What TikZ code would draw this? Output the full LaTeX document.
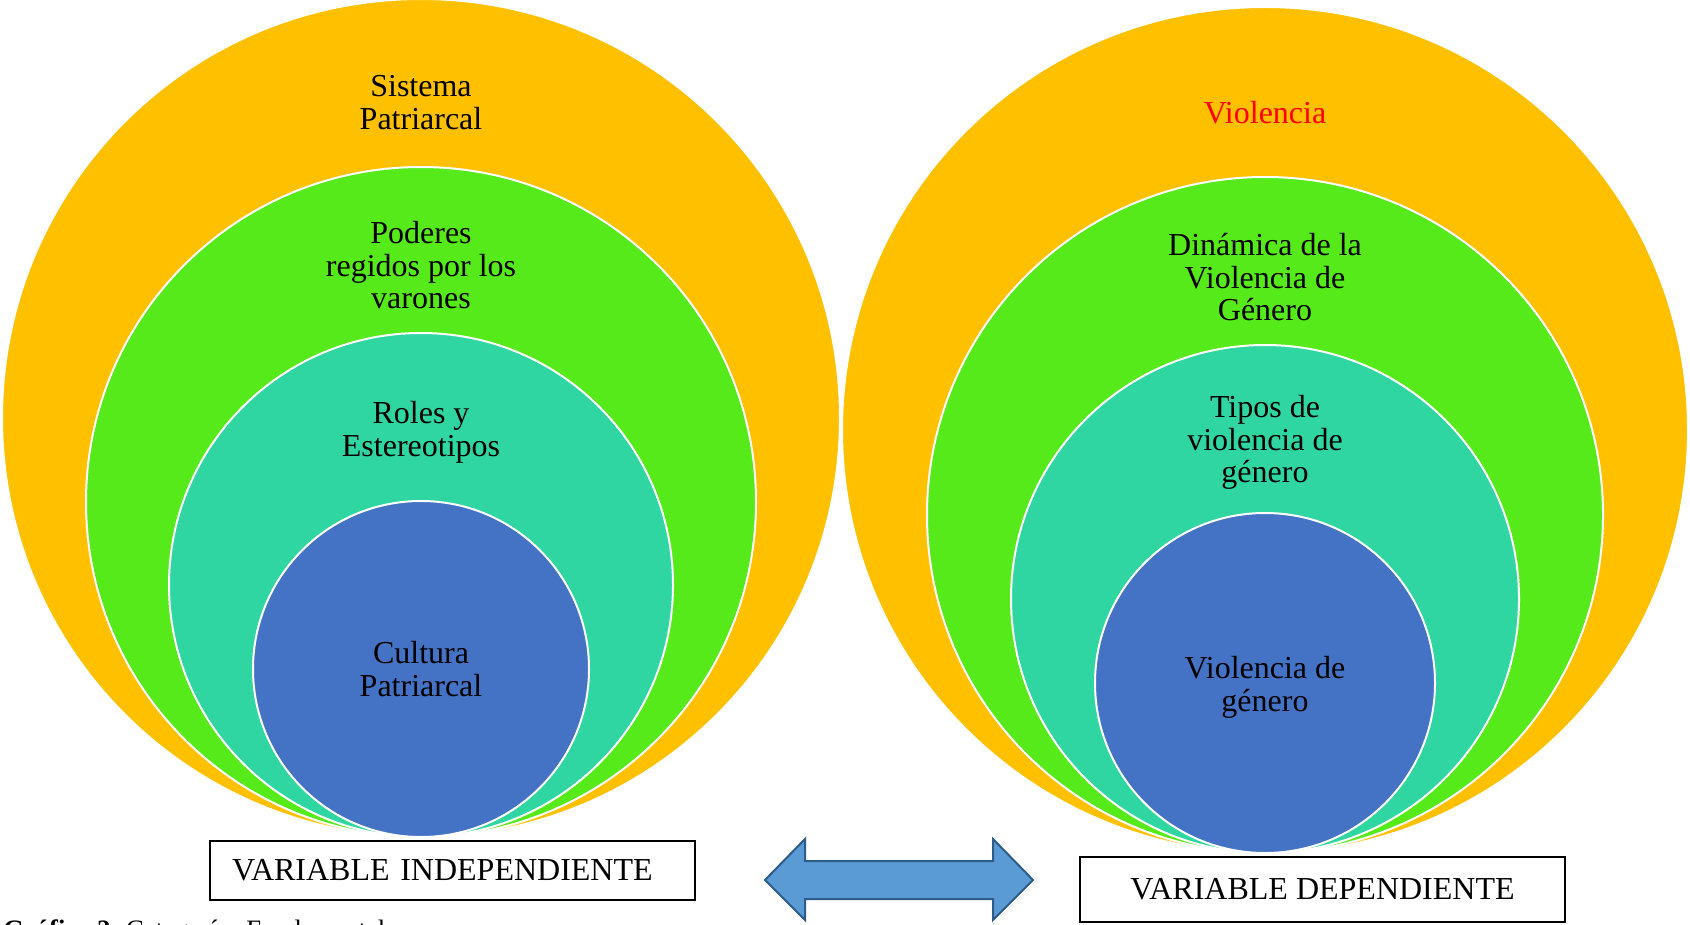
\documentclass[tikz,border=0pt]{standalone}
\usepackage{fontspec}
\setmainfont{Liberation Serif}
\usepackage{tikz}
\usepackage{xcolor}
\usetikzlibrary{positioning}
\definecolor{capaA}{RGB}{255,192,0}
\definecolor{capaB}{RGB}{86,234,26}
\definecolor{capaC}{RGB}{47,214,162}
\definecolor{capaD}{RGB}{68,114,196}
\definecolor{flecha}{RGB}{91,155,213}
\definecolor{flechaborde}{RGB}{46,92,138}

\begin{document}
\begin{tikzpicture}[x=0.5pt,y=-0.5pt]
\tikzstyle{every node}+=[inner sep=0pt, font=\fontsize{16}{16.3}\selectfont]
\tikzstyle{capa}=[draw=white, line width=1pt]
\tikzstyle{etiqueta}=[anchor=north, align=center]
\tikzstyle{cajavar}=[draw=black, line width=1pt, minimum width=242.5pt]
\clip (0,0) rectangle (1690,925);
\fill [white] (0,0) rectangle (1690,925);
\draw [capa, fill=capaA] (421,418) circle (209.5pt);
\draw [capa, fill=capaB] (421,502) circle (167.5pt);
\draw [capa, fill=capaC] (421,585) circle (126pt);
\draw [capa, fill=capaD] (421,669) circle (84pt);
\draw [capa, fill=capaA] (1265,430) circle (211.5pt);
\draw [capa, fill=capaB] (1265,515) circle (169pt);
\draw [capa, fill=capaC] (1265,599) circle (127pt);
\draw [capa, fill=capaD] (1265,683) circle (85pt);
\node [etiqueta] (sistema) at (421,75) {Sistema\\Patriarcal};
\node [etiqueta] (poderes) at (421,221) {Poderes\\regidos por los\\varones};
\node [etiqueta] (roles) at (421,401) {Roles y\\Estereotipos};
\node [etiqueta] (cultura) at (421,641) {Cultura\\Patriarcal};
\node [etiqueta, text=red] (violencia) at (1265,101) {Violencia};
\node [etiqueta] (dinamica) at (1265,233) {Dinámica de la\\Violencia de\\Género};
\node [etiqueta] (tipos) at (1265,395) {Tipos de\\violencia de\\género};
\node [etiqueta] (vgenero) at (1265,656) {Violencia de\\género};
\node [cajavar, minimum height=29.5pt, text width=220.5pt, inner xsep=11pt, align=left] (indep) at (452.5,870.5) {VARIABLE INDEPENDIENTE};
\node [cajavar, minimum height=32.5pt, align=center] (dep) at (1322.5,889.5) {VARIABLE DEPENDIENTE};
\draw [flechaborde, fill=flecha, line width=1pt] (765,880) -- (805,839) -- (805,861) -- (993,861) -- (993,839) -- (1033,880) -- (993,920) -- (993,899) -- (805,899) -- (805,920) -- cycle;
\node [anchor=base west, font=\fontsize{13.3}{16}\selectfont] (grafico) at (3,938) {\textbf{Gráfico 2.} Categorías Fundamentales};
\end{tikzpicture}
\end{document}
